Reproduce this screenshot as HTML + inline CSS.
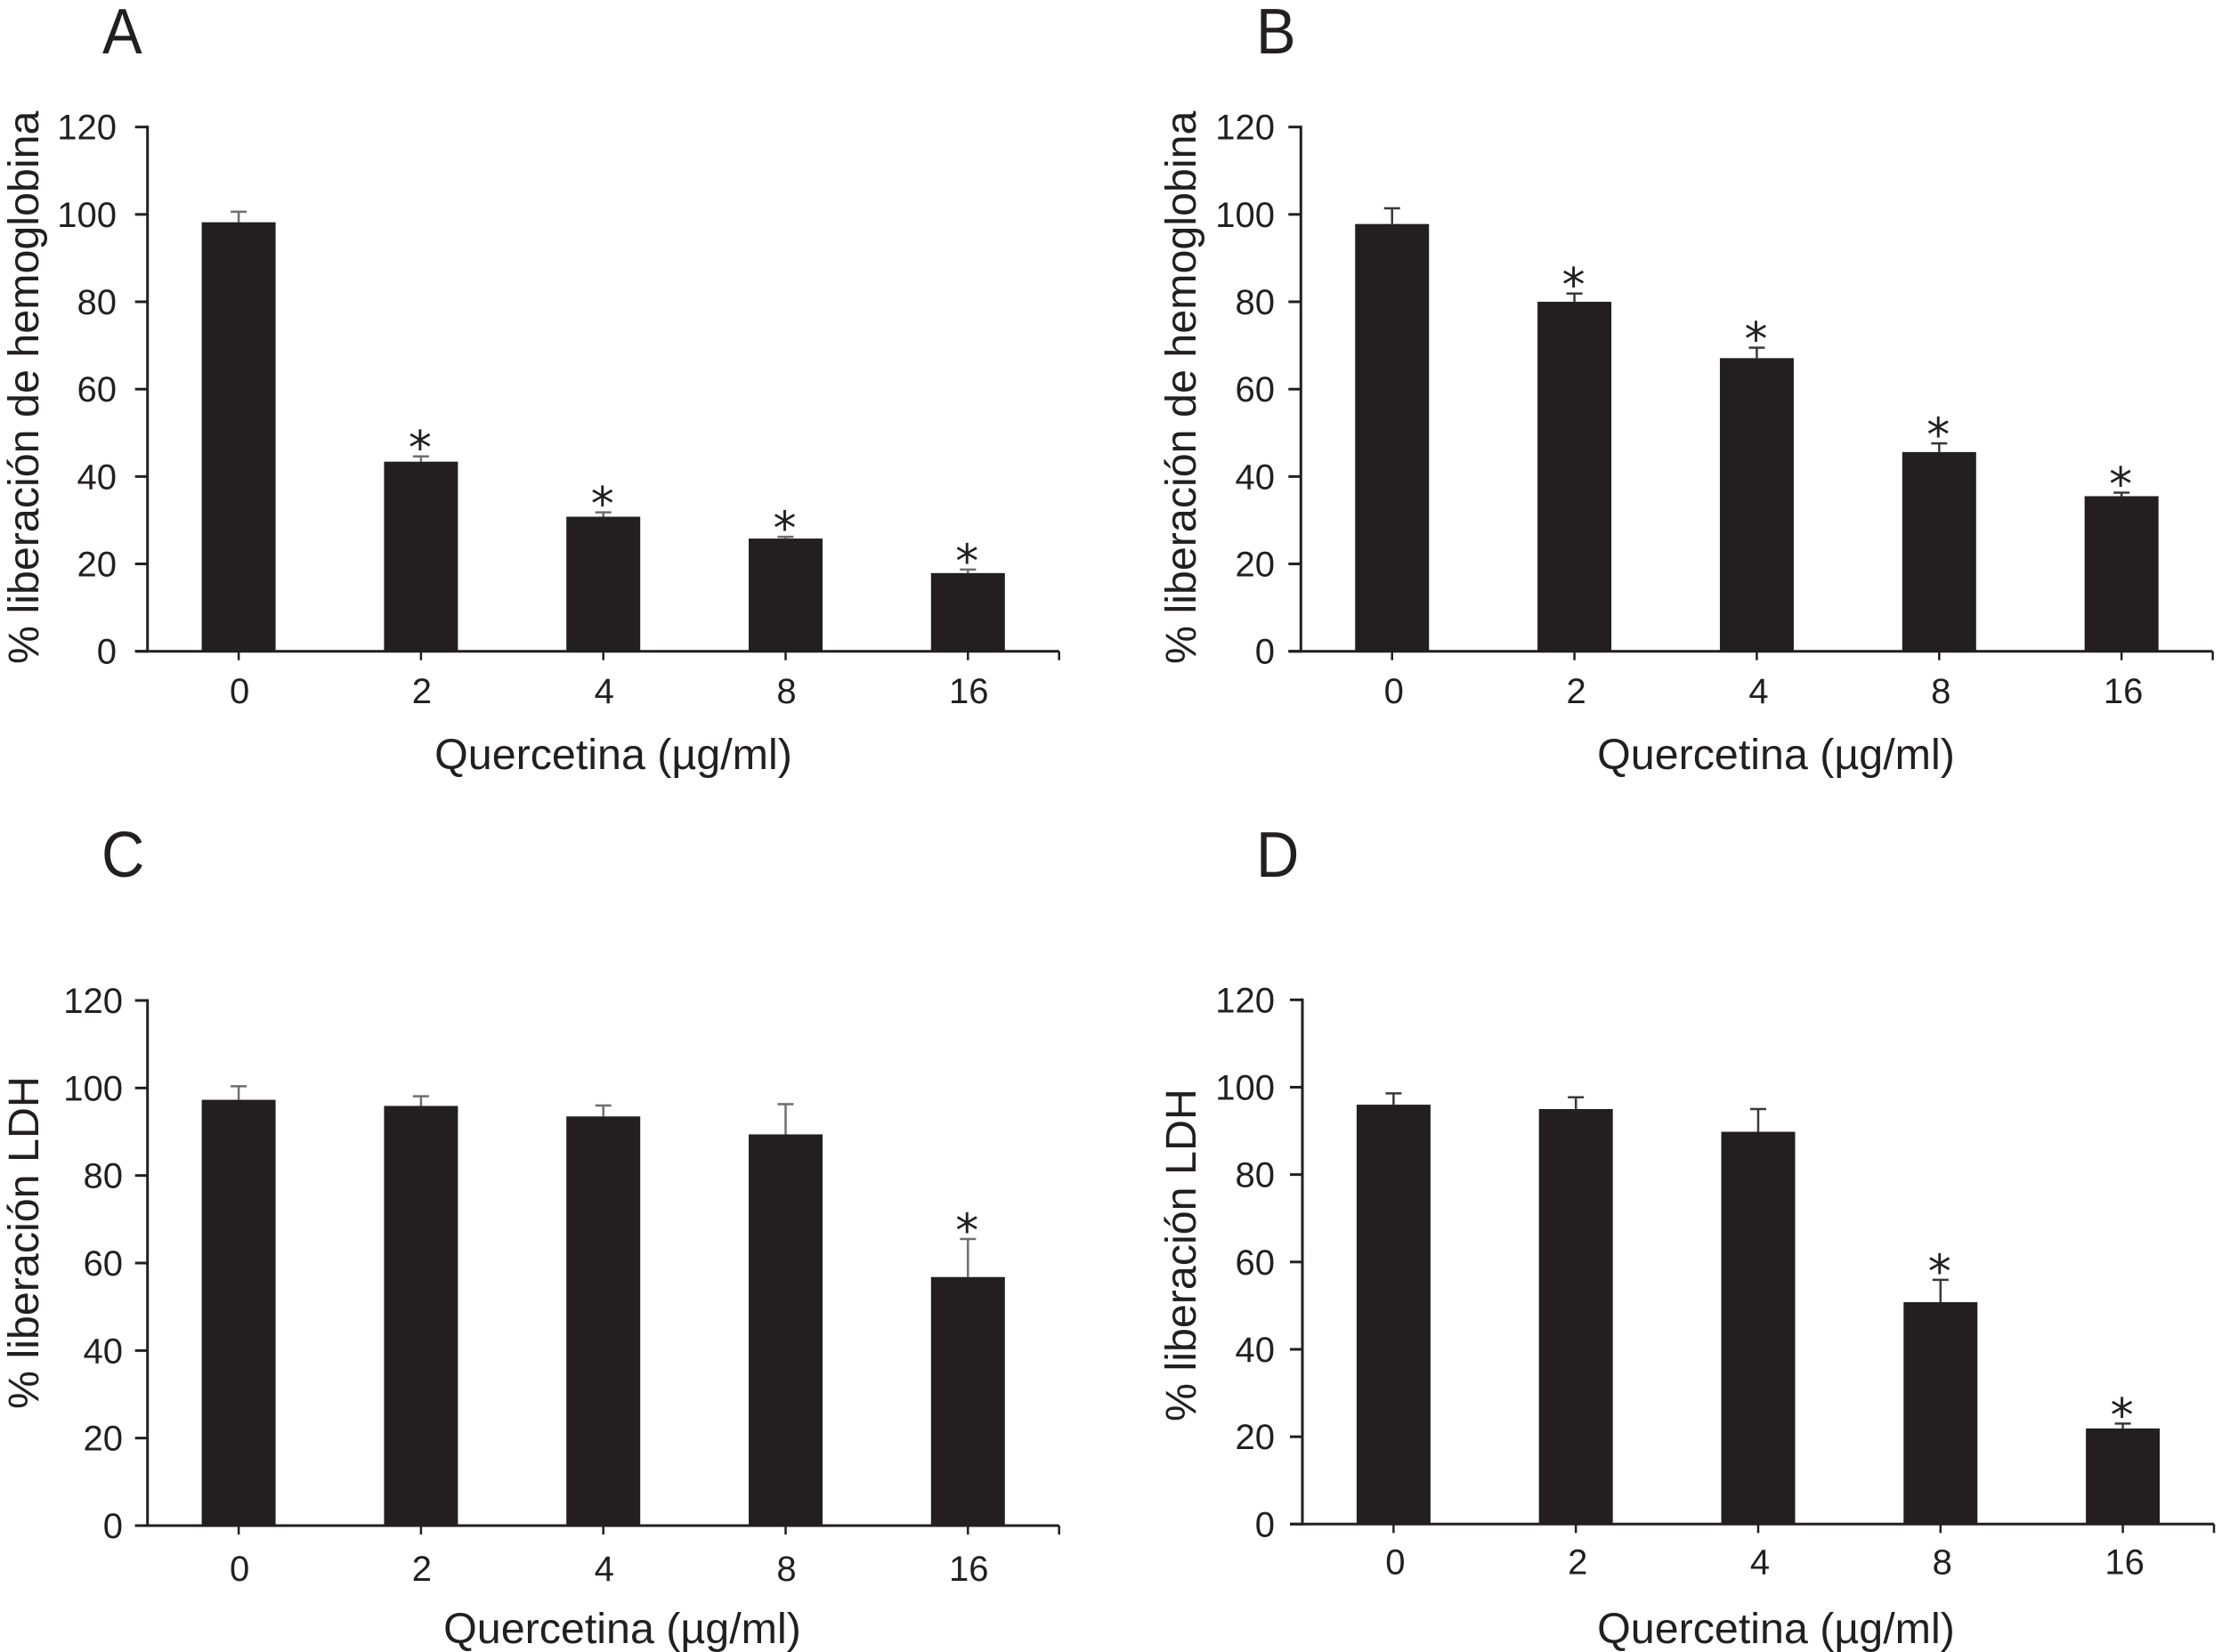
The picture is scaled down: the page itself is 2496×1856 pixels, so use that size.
<!DOCTYPE html>
<html lang="es">
<head>
<meta charset="utf-8">
<title>Quercetina: liberación de hemoglobina y LDH</title>
<style>
  html, body { margin: 0; padding: 0; background: #ffffff; }
  svg { display: block; }
  text { font-family: "Liberation Sans", sans-serif; fill: #231f20; }
</style>
</head>
<body>
<svg id="figure" xmlns="http://www.w3.org/2000/svg" width="2496" height="1856" viewBox="0 0 2496 1856"></svg>
<script>
// ---- Chart data ----
const categories = ["0", "2", "4", "8", "16"];
const yTickLabels = [0, 20, 40, 60, 80, 100, 120];

const panelAValues = [98.2, 43.4, 30.8, 25.8, 17.9];
const panelAErrorTops = [100.6, 44.6, 31.8, 26.2, 18.7];
const panelASignificant = [false, true, true, true, true];

const panelBValues = [97.8, 80.0, 67.1, 45.6, 35.5];
const panelBErrorTops = [101.4, 81.9, 69.5, 47.6, 36.3];
const panelBSignificant = [false, true, true, true, true];

const panelCValues = [97.3, 95.9, 93.5, 89.4, 56.8];
const panelCErrorTops = [100.4, 98.1, 96.0, 96.3, 65.5];
const panelCSignificant = [false, false, false, false, true];

const panelDValues = [96.0, 95.0, 89.8, 50.8, 21.9];
const panelDErrorTops = [98.6, 97.7, 95.0, 55.9, 23.0];
const panelDSignificant = [false, false, false, true, true];

const yTitleHemoglobin = "% liberación de hemoglobina";
const yTitleLdh = "% liberación LDH";
const xTitle = "Quercetina (µg/ml)";

const yMax = 120;
const INK = "#231f20";
const SVG_NS = "http://www.w3.org/2000/svg";
const figure = document.getElementById("figure");

function make(parent, tag, props, content) {
  const node = document.createElementNS(SVG_NS, tag);
  for (const key in props) node.setAttribute(key, props[key]);
  if (content !== undefined) node.textContent = content;
  parent.appendChild(node);
  return node;
}

function drawPanel(cfg) {
  const xScale = (i) => cfg.axisX + (i + 0.5) * cfg.plotW / categories.length;
  const yScale = (v) => cfg.baseY - (v / yMax) * cfg.plotH;

  const group = make(figure, "g", {});
  
  

  const letter = make(group, "text", { transform: "translate(" + cfg.letterX + " " + cfg.letterY + ") scale(0.93 1)", "font-size": 72 }, cfg.id.toUpperCase());
  
  

  // bars first so the axes overlay them
  cfg.values.forEach(function (value, i) {
    const cx = xScale(i);
    const top = yScale(value);
    const errTop = yScale(cfg.errorTops[i]);

    const stem = make(group, "line", { x1: cx, x2: cx, y1: errTop, y2: top, stroke: cfg.errorColor, "stroke-width": 2.5 });
    
    

    const cap = make(group, "line", { x1: cx - 9, x2: cx + 9, y1: errTop, y2: errTop, stroke: cfg.errorColor, "stroke-width": 2.5 });
    
    

    const bar = make(group, "rect", { x: cx - 41.5, y: top, width: 83, height: cfg.baseY - top, fill: INK });
    
    

    if (cfg.significant[i]) {
      const star = make(group, "text", { x: cx - 1, y: errTop + 8.4, "font-size": 52, "text-anchor": "middle", style: 'font-family:"DejaVu Sans",sans-serif' }, "*");
      
      
    }
  });

  // y axis
  const yAxis = make(group, "line", { x1: cfg.axisX, x2: cfg.axisX, y1: yScale(yMax) - 1.5, y2: cfg.baseY + 1.5, stroke: INK, "stroke-width": 3 });
  
  

  yTickLabels.forEach(function (tick) {
    const y = yScale(tick);
    const mark = make(group, "line", { x1: cfg.axisX - 14, x2: cfg.axisX, y1: y, y2: y, stroke: INK, "stroke-width": 3 });
    
    

    const label = make(group, "text", { x: cfg.yLabelX, y: y + 14, "font-size": 40, "text-anchor": "end" }, String(tick));
    
    
  });

  // x axis
  const xAxis = make(group, "line", { x1: cfg.axisX - 14, x2: cfg.axisX + cfg.plotW, y1: cfg.baseY, y2: cfg.baseY, stroke: INK, "stroke-width": 3 });
  
  

  const endTick = make(group, "line", { x1: cfg.axisX + cfg.plotW, x2: cfg.axisX + cfg.plotW, y1: cfg.baseY, y2: cfg.baseY + 10, stroke: INK, "stroke-width": 2.5 });
  
  

  categories.forEach(function (category, i) {
    const cx = xScale(i);
    const mark = make(group, "line", { x1: cx, x2: cx, y1: cfg.baseY, y2: cfg.baseY + 10, stroke: INK, "stroke-width": 2.5 });
    
    

    const label = make(group, "text", { x: cx + cfg.xLabelShift, y: cfg.xLabelY, "font-size": 40, "text-anchor": "middle" }, category);
    
    
  });

  const xLabel = make(group, "text", { x: cfg.xTitleX, y: cfg.xTitleY, "font-size": 48.4, "text-anchor": "middle" }, xTitle);
  
  

  const yLabel = make(group, "text", { transform: "translate(" + cfg.yTitleX + " " + cfg.yTitleStart + ") rotate(-90)", "font-size": 48.4 }, cfg.yTitle);
  
  
}

drawPanel({
  id: "a", values: panelAValues, errorTops: panelAErrorTops, significant: panelASignificant,
  yTitle: yTitleHemoglobin, errorColor: "#6f6d6e",
  axisX: 165.7, plotW: 1024, baseY: 731.7, plotH: 589,
  letterX: 115, letterY: 60, yLabelX: 131, xLabelShift: 1, xLabelY: 790,
  xTitleX: 689, xTitleY: 864, yTitleX: 43, yTitleStart: 746
});
drawPanel({
  id: "b", values: panelBValues, errorTops: panelBErrorTops, significant: panelBSignificant,
  yTitle: yTitleHemoglobin, errorColor: "#3a3738",
  axisX: 1461.3, plotW: 1024.3, baseY: 731.7, plotH: 589,
  letterX: 1411, letterY: 60, yLabelX: 1432, xLabelShift: 2, xLabelY: 790,
  xTitleX: 1995, xTitleY: 864, yTitleX: 1343, yTitleStart: 746
});
drawPanel({
  id: "c", values: panelCValues, errorTops: panelCErrorTops, significant: panelCSignificant,
  yTitle: yTitleLdh, errorColor: "#6f6d6e",
  axisX: 165.7, plotW: 1024, baseY: 1714, plotH: 590,
  letterX: 114, letterY: 985, yLabelX: 138, xLabelShift: 1, xLabelY: 1776,
  xTitleX: 699, xTitleY: 1846, yTitleX: 43, yTitleStart: 1583
});
drawPanel({
  id: "d", values: panelDValues, errorTops: panelDErrorTops, significant: panelDSignificant,
  yTitle: yTitleLdh, errorColor: "#3a3738",
  axisX: 1463, plotW: 1024, baseY: 1712.3, plotH: 589,
  letterX: 1411, letterY: 985, yLabelX: 1432, xLabelShift: 2, xLabelY: 1768.5,
  xTitleX: 1995, xTitleY: 1846, yTitleX: 1343, yTitleStart: 1597
});
</script>
</body>
</html>
